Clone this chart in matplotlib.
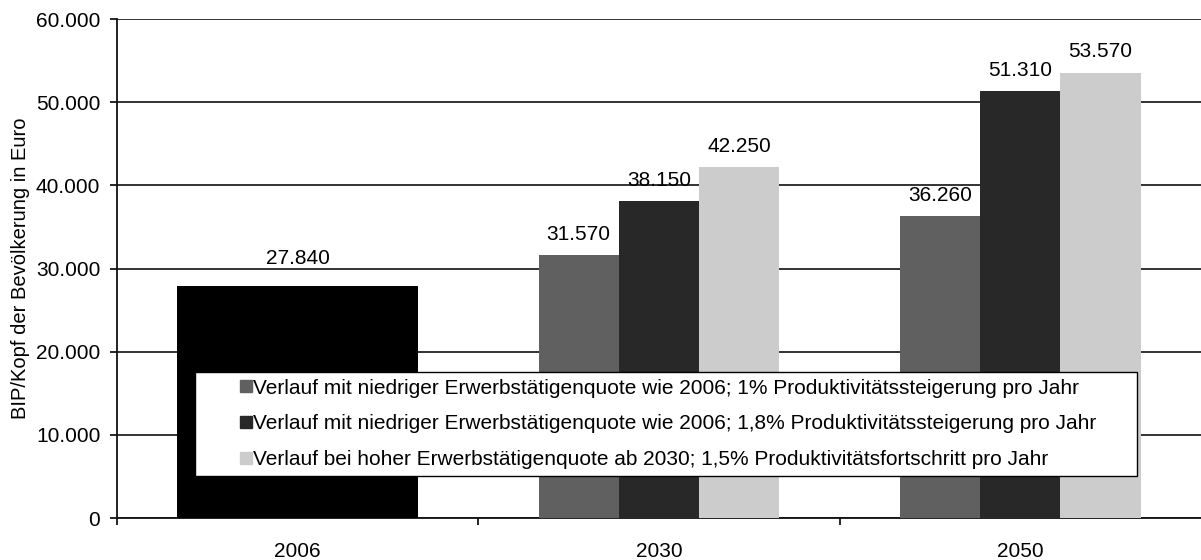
import numpy as np
import matplotlib
matplotlib.use('Agg')
import matplotlib.pyplot as plt
from matplotlib.ticker import FuncFormatter
from matplotlib.patches import Rectangle
from matplotlib.legend_handler import HandlerPatch

plt.rcParams['font.family'] = ['Liberation Sans', 'DejaVu Sans']

#%% data
categories = ['2006', '2030', '2050']
base_year_value = 27840
series_labels = [
    'Verlauf mit niedriger Erwerbstätigenquote wie 2006; 1% Produktivitätssteigerung pro Jahr',
    'Verlauf mit niedriger Erwerbstätigenquote wie 2006; 1,8% Produktivitätssteigerung pro Jahr',
    'Verlauf bei hoher Erwerbstätigenquote ab 2030; 1,5% Produktivitätsfortschritt pro Jahr',
]
series_values = [
    [31570, 36260],
    [38150, 51310],
    [42250, 53570],
]
series_colors = ['#606060', '#282828', '#cccccc']


def de_fmt(v, pos=None):
    return '{:,.0f}'.format(v).replace(',', '.')


# small square marker sitting at the right end of the handle box
def square_handle(legend, orig_handle, xdescent, ydescent, width, height, fontsize):
    s = 12 * 72 / 100
    return Rectangle((width - s - xdescent, (height - s) / 2 - ydescent), s, s)


#%% plot
fig = plt.figure(figsize=(12.01, 5.6), dpi=100)
ax = fig.add_axes([0.0974, 0.075, 0.9026, 0.891])

x = np.arange(len(categories))
bw = 2 / 9

b0 = ax.bar(x[0], base_year_value, width=3 * bw, color='black', zorder=3)
ax.bar_label(b0, labels=[de_fmt(base_year_value)], padding=13, fontsize=15)

handles = []
for i in range(3):
    bars = ax.bar(x[1:] + (i - 1) * bw, series_values[i], width=bw,
                  color=series_colors[i], label=series_labels[i], zorder=3)
    ax.bar_label(bars, labels=[de_fmt(v) for v in series_values[i]],
                 padding=8, fontsize=15)
    handles.append(Rectangle((0, 0), 1, 1, color=series_colors[i]))

ax.set_xlim(-0.5, 2.5)
ax.set_ylim(0, 60000)
ax.set_yticks(np.arange(0, 60001, 10000))
ax.yaxis.set_major_formatter(FuncFormatter(de_fmt))
ax.yaxis.grid(True, color='#111111', linewidth=1.2)
ax.set_axisbelow(True)

ax.set_xticks(x)
ax.set_xticklabels(categories)
ax.set_xticks([-0.5, 0.5, 1.5], minor=True)
ax.tick_params(axis='x', which='major', length=0, pad=17, labelsize=15)
ax.tick_params(axis='x', which='minor', length=5, width=1.2, direction='out')
ax.tick_params(axis='y', length=5, width=1.2, pad=7, labelsize=15)

for s in ['top', 'right']:
    ax.spines[s].set_visible(False)
for s in ['left', 'bottom']:
    ax.spines[s].set_linewidth(1.3)
    ax.spines[s].set_color('#111111')

ax.set_ylabel('BIP/Kopf der Bevölkerung in Euro', fontsize=14.5, labelpad=4)

leg = ax.legend(handles, series_labels, loc='upper left',
                bbox_to_anchor=(0.072, 0.0862, 0.869, 0.2064), mode='expand',
                fontsize=15, frameon=True, fancybox=False, shadow=False,
                framealpha=1, edgecolor='black', handlelength=2.4,
                handleheight=0.7, handletextpad=0.05, labelspacing=0.8,
                borderpad=0.32, borderaxespad=0,
                handler_map={Rectangle: HandlerPatch(patch_func=square_handle)})
leg.get_frame().set_linewidth(1.0)
leg.set_zorder(5)

fig.savefig('out.png', dpi=100)
